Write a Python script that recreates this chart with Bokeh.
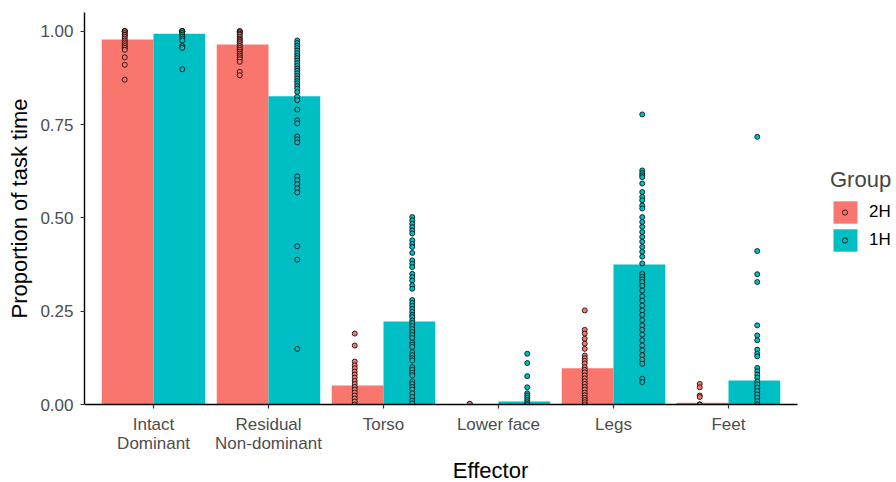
from bokeh.plotting import figure
from bokeh.models import (ColumnDataSource, Range1d, FixedTicker, LinearAxis, Title,
                          NumeralTickFormatter, Legend, LegendItem)
from bokeh.transform import dodge
from bokeh.embed import file_html
from bokeh.resources import INLINE

effectors = ["Intact Dominant", "Residual Non-dominant", "Torso", "Lower face", "Legs", "Feet"]
tick_line1 = ["Intact", "Residual", "Torso", "Lower face", "Legs", "Feet"]
tick_line2 = ["Dominant", "Non-dominant", "", "", "", ""]
groups = ["2H", "1H"]
colors = ["#F8766D", "#00BFC4"]
y_ticks = [0.0, 0.25, 0.5, 0.75, 1.0]

# bar heights (group means)
mean_2h = [0.978, 0.964, 0.051, 0.001, 0.097, 0.005]
mean_1h = [0.993, 0.826, 0.222, 0.008, 0.375, 0.064]

# individual participants, 2H group
intact_2h = [1.0, 1.0, 1.0, 1.0, 0.995, 0.99, 0.99, 0.985, 0.98, 0.975, 0.97, 0.965, 0.96,
             0.955, 0.95, 0.93, 0.91, 0.87]
residual_2h = [1.0, 1.0, 0.997, 0.993, 0.99, 0.985, 0.98, 0.977, 0.973, 0.97, 0.965, 0.96, 0.955,
               0.95, 0.945, 0.94, 0.935, 0.93, 0.925, 0.918, 0.891, 0.882]
torso_2h = [0.19, 0.158, 0.115, 0.105, 0.097, 0.088, 0.08, 0.072, 0.063, 0.055, 0.047, 0.04,
            0.032, 0.024, 0.016, 0.008, 0.0]
face_2h = [0.0, 0.0, 0.001, 0.002]
legs_2h = [0.252, 0.2, 0.19, 0.176, 0.163, 0.149, 0.131, 0.124, 0.117, 0.11, 0.1, 0.093, 0.086,
           0.078, 0.07, 0.062, 0.055, 0.047, 0.04, 0.032, 0.025, 0.018, 0.012, 0.006, 0.0]
feet_2h = [0.055, 0.046, 0.024, 0.02, 0.0, 0.0, 0.0]

# individual participants, 1H group
intact_1h = [1.0, 1.0, 1.0, 1.0, 1.0, 0.995, 0.99, 0.985, 0.98, 0.975, 0.96, 0.955, 0.898]
residual_1h = [0.975, 0.968, 0.961, 0.955, 0.948, 0.941, 0.934, 0.928, 0.921, 0.914, 0.907,
               0.9, 0.894, 0.887, 0.88, 0.873, 0.866, 0.86, 0.853, 0.846, 0.837, 0.824, 0.815,
               0.79, 0.761, 0.753, 0.718, 0.71, 0.702, 0.611, 0.601, 0.59, 0.579, 0.568,
               0.424, 0.388, 0.149]
torso_1h = [0.502, 0.493, 0.484, 0.475, 0.466, 0.458, 0.44, 0.43, 0.422, 0.406, 0.386, 0.377,
            0.368, 0.35, 0.341, 0.332, 0.319, 0.31, 0.28, 0.272, 0.264, 0.256, 0.248, 0.24,
            0.234, 0.225, 0.218, 0.21, 0.202, 0.194, 0.186, 0.178, 0.166, 0.16, 0.154, 0.14,
            0.132, 0.124, 0.118, 0.1, 0.093, 0.085, 0.078, 0.062, 0.055, 0.047, 0.04, 0.03,
            0.02, 0.01, 0.003]
face_1h = [0.136, 0.111, 0.076, 0.046, 0.03, 0.024, 0.018, 0.012, 0.006, 0.0, 0.0]
legs_1h = [0.777, 0.627, 0.62, 0.614, 0.609, 0.592, 0.569, 0.556, 0.547, 0.533, 0.525, 0.502,
           0.489, 0.476, 0.462, 0.449, 0.436, 0.422, 0.409, 0.396, 0.378, 0.35, 0.342, 0.335,
           0.328, 0.318, 0.305, 0.29, 0.278, 0.265, 0.252, 0.24, 0.226, 0.212, 0.2, 0.187,
           0.172, 0.158, 0.145, 0.132, 0.12, 0.109, 0.069, 0.06]
feet_1h = [0.717, 0.411, 0.349, 0.328, 0.212, 0.185, 0.172, 0.147, 0.136, 0.129, 0.098, 0.089,
           0.08, 0.072, 0.062, 0.054, 0.045, 0.036, 0.027, 0.018, 0.009, 0.0, 0.0]

points_2h = [intact_2h, residual_2h, torso_2h, face_2h, legs_2h, feet_2h]
points_1h = [intact_1h, residual_1h, torso_1h, face_1h, legs_1h, feet_1h]

FONT = "Liberation Sans"
x_pos = list(range(1, len(effectors) + 1))
x_lo, x_hi = 0.4, len(effectors) + 0.6   # discrete-axis expansion of 0.6 on each side

p = figure(width=896, height=482,
           x_range=Range1d(x_lo, 7.461), y_range=Range1d(0, 1.05),
           output_backend="svg", toolbar_location=None,
           min_border_left=84, min_border_right=0, min_border_top=12, min_border_bottom=78,
           background_fill_color="white", border_fill_color="white")
p.outline_line_color = None
p.xgrid.visible = False
p.ygrid.visible = False

bar_renderers = []
pt_renderers = []
for g, col, means, pts, off_bar, off_pt in [("2H", colors[0], mean_2h, points_2h, -0.225, -0.25),
                                              ("1H", colors[1], mean_1h, points_1h, 0.225, 0.25)]:
    bsrc = ColumnDataSource(dict(x=x_pos, top=means))
    br = p.vbar(x=dodge("x", off_bar), top="top", width=0.45,
                source=bsrc, fill_color=col, line_color=None)
    xs, ys = [], []
    for xp, vals in zip(x_pos, pts):
        xs.extend([xp] * len(vals))
        ys.extend(vals)
    psrc = ColumnDataSource(dict(x=xs, y=ys))
    pr = p.scatter(x=dodge("x", off_pt), y="y", source=psrc, size=5,
                   marker="circle", fill_color=col, line_color="black", line_width=0.8)
    bar_renderers.append(br)
    pt_renderers.append(pr)

xaxis2 = LinearAxis()
p.add_layout(xaxis2, "below")

def style(ax):
    ax.axis_line_color = "black"
    ax.axis_line_width = 1.4
    ax.major_tick_line_color = "#333333"
    ax.major_tick_line_width = 1.2
    ax.major_tick_out = 4
    ax.major_tick_in = 0
    ax.minor_tick_line_color = None
    ax.major_label_text_font = FONT
    ax.major_label_text_font_size = "17px"
    ax.major_label_text_color = "#4D4D4D"
    ax.axis_label_text_font = FONT
    ax.axis_label_text_font_size = "22px"
    ax.axis_label_text_font_style = "normal"
    ax.axis_label_text_color = "black"

for ax in (p.xaxis[0], p.yaxis[0], xaxis2):
    style(ax)

p.yaxis.ticker = FixedTicker(ticks=y_ticks)
p.yaxis.formatter = NumeralTickFormatter(format="0.00")
p.yaxis.axis_label = "Proportion of task time"
p.yaxis.major_label_standoff = 7
p.yaxis.axis_label_standoff = 5

ax1 = p.xaxis[0]
ax1.bounds = (x_lo, x_hi)
ax1.ticker = FixedTicker(ticks=x_pos)
ax1.major_label_overrides = {xp: t for xp, t in zip(x_pos, tick_line1)}
ax1.major_label_standoff = 6

xaxis2.bounds = (x_lo, x_hi)
xaxis2.ticker = FixedTicker(ticks=[xp for xp, t in zip(x_pos, tick_line2) if t])
xaxis2.major_label_overrides = {xp: t for xp, t in zip(x_pos, tick_line2) if t}
xaxis2.axis_line_color = None
xaxis2.major_tick_line_color = None
xaxis2.major_tick_out = 0
xaxis2.major_label_standoff = -3

# x-axis title centred under the axis (frame is wider to host the legend)
p.add_layout(Title(text="Effector", align="center", offset=-49, text_font=FONT,
                   text_font_size="22px", text_font_style="normal", text_color="black",
                   standoff=0), "below")

legA = Legend(items=[LegendItem(label=g, renderers=[r]) for g, r in zip(groups, bar_renderers)],
              location=(746, 150), title="Group", title_text_font=FONT,
              title_text_font_size="22px", title_text_font_style="normal",
              title_standoff=5, glyph_width=30, glyph_height=28, spacing=-3,
              label_standoff=9, label_text_font=FONT, label_text_font_size="17px",
              label_text_color="black",
              padding=0, margin=0, border_line_color=None, background_fill_alpha=0)
legB = Legend(items=[LegendItem(label=" ", renderers=[r]) for r in pt_renderers],
              location=(754, 150), glyph_width=13, glyph_height=28, spacing=-3,
              label_standoff=0, label_text_font_size="1px", label_height=28,
              padding=0, margin=0, border_line_color=None, background_fill_alpha=0)
p.add_layout(legA, "center")
p.add_layout(legB, "center")

open("out.html", "w").write(file_html(p, INLINE))
